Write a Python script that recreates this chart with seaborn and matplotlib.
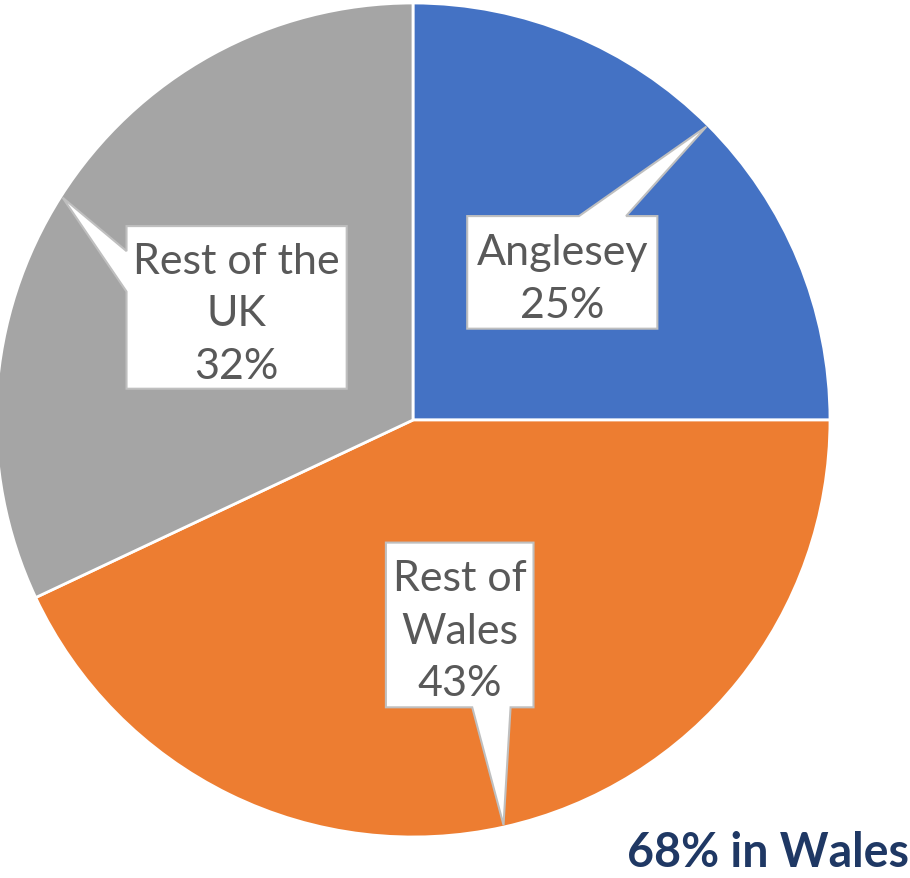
import numpy as np
import seaborn as sns
import matplotlib.pyplot as plt
from matplotlib.patches import Polygon

# data
labels = ["Anglesey", "Rest of\nWales", "Rest of the\nUK"]
shares = [25, 43, 32]
colors = ["#4472C4", "#ED7D31", "#A5A5A5"]

sns.set_style("white")
plt.rcParams['font.family'] = ['Lato', 'DejaVu Sans']

fig = plt.figure(figsize=(9.1, 8.79), dpi=100)
# axes square in pixels, pie centre ~ (413, 421) px, radius ~417 px
R_PX = 417
ax = fig.add_axes([(413 - R_PX) / 910, (879 - 421 - R_PX) / 879,
                   2 * R_PX / 910, 2 * R_PX / 879])

wedges, _ = ax.pie(shares, colors=colors, startangle=90, counterclock=False,
                   radius=1, wedgeprops=dict(edgecolor="white", linewidth=2))
ax.set_xlim(-1, 1)
ax.set_ylim(-1, 1)
ax.axis("off")

# callout boxes: (x0, x1, y0, y1), side of the pointer, pointer base span
boxes = [
    ((0.130, 0.586, 0.219, 0.489), "top", (0.398, 0.511)),
    ((-0.065, 0.289, -0.689, -0.294), "bottom", (0.142, 0.234)),
    ((-0.687, -0.159, 0.075, 0.465), "left", (0.308, 0.405)),
]

for w, lab, val, (box, side, base) in zip(wedges, labels, shares, boxes):
    mid = np.deg2rad((w.theta1 + w.theta2) / 2)
    tip = (np.cos(mid) * 0.995, np.sin(mid) * 0.995)
    x0, x1, y0, y1 = box
    if side == "top":
        pts = [(x0, y0), (x1, y0), (x1, y1), (base[1], y1), tip, (base[0], y1), (x0, y1)]
    elif side == "bottom":
        pts = [(x0, y0), (base[0], y0), tip, (base[1], y0), (x1, y0), (x1, y1), (x0, y1)]
    else:
        pts = [(x0, y0), (x1, y0), (x1, y1), (x0, y1), (x0, base[1]), tip, (x0, base[0])]
    ax.add_patch(Polygon(pts, closed=True, facecolor="white", edgecolor="#BFBFBF",
                         linewidth=1.5, zorder=3))
    ax.text((x0 + x1) / 2, (y0 + y1) / 2 - 0.014, f"{lab}\n{val}%", ha="center", va="center",
            fontsize=31, color="#595959", linespacing=1.47, zorder=4)

fig.text(0.999, 0.004, "68% in Wales", ha="right", va="bottom", fontsize=33.5,
         fontweight="bold", color="#1F3864")

fig.savefig("out.png", dpi=100)
